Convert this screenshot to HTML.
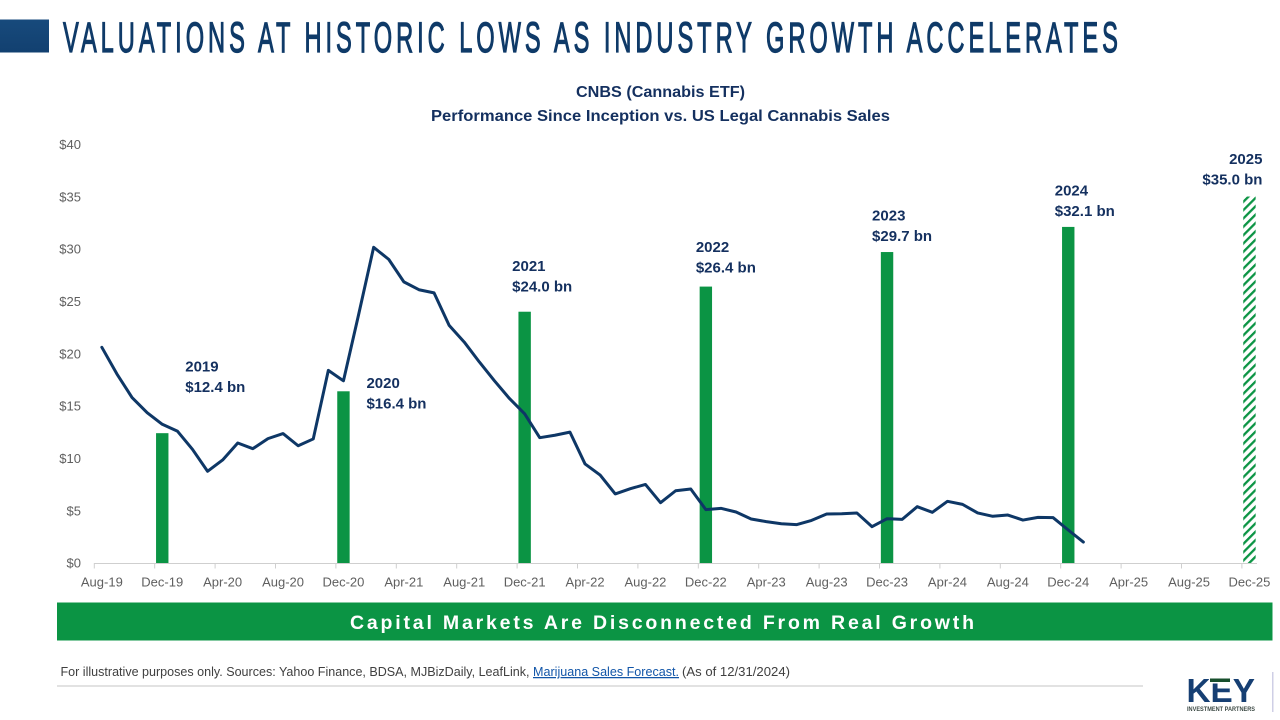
<!DOCTYPE html>
<html lang="en">
<head>
<meta charset="utf-8">
<title>Valuations at Historic Lows as Industry Growth Accelerates</title>
<style>
html,body{margin:0;padding:0;background:#fff;width:1280px;height:720px;overflow:hidden}
svg{display:block;font-family:"Liberation Sans",sans-serif}
.axis-label{font-size:13px;fill:#5f5f5f}
.bar-label{font-size:15px;font-weight:bold;fill:#14305f}
</style>
</head>
<body>
<svg id="slide" width="1280" height="720" viewBox="0 0 1280 720" xmlns="http://www.w3.org/2000/svg">
  <defs>
    <pattern id="hatch" patternUnits="userSpaceOnUse" width="5.9" height="5.9" patternTransform="rotate(-45)">
      <rect width="5.9" height="5.9" fill="#fff"/>
      <rect width="5.9" height="2.3" fill="#0b9444"/>
    </pattern>
    <linearGradient id="title-block-fill" x1="0" y1="0" x2="0" y2="1">
      <stop offset="0" stop-color="#174a7c"/>
      <stop offset="1" stop-color="#124070"/>
    </linearGradient>
  </defs>

  <rect x="0" y="19.5" width="49" height="33" fill="url(#title-block-fill)"/>
  <text transform="translate(63,51.8) scale(0.55,1)" x="0" y="0" font-size="43" fill="#0f3a68" stroke="#0f3a68" stroke-width="1.2" textLength="1918" lengthAdjust="spacing">VALUATIONS AT HISTORIC LOWS AS INDUSTRY GROWTH ACCELERATES</text>

  <text x="576" y="97" font-size="16" font-weight="bold" fill="#14305f" textLength="169" lengthAdjust="spacingAndGlyphs">CNBS (Cannabis ETF)</text>
  <text x="431" y="121" font-size="16" font-weight="bold" fill="#14305f" textLength="459" lengthAdjust="spacingAndGlyphs">Performance Since Inception vs. US Legal Cannabis Sales</text>

  <g id="chart"></g>

  <rect x="57" y="602.5" width="1215.5" height="38" fill="#0b9444"/>
  <text x="350" y="629" font-size="19.5" font-weight="bold" fill="#fff" textLength="624" lengthAdjust="spacing">Capital Markets Are Disconnected From Real Growth</text>

  <text x="60.5" y="676" font-size="12.5" fill="#404040" textLength="469" lengthAdjust="spacingAndGlyphs">For illustrative purposes only. Sources: Yahoo Finance, BDSA, MJBizDaily, LeafLink,</text>
  <text x="533" y="676" font-size="12.5" fill="#1155a8" text-decoration="underline" textLength="146" lengthAdjust="spacingAndGlyphs">Marijuana Sales Forecast.</text>
  <text x="682" y="676" font-size="12.5" fill="#404040" textLength="108" lengthAdjust="spacingAndGlyphs">(As of 12/31/2024)</text>
  <rect x="57" y="685.5" width="1086" height="1" fill="#c4c4c4"/>

  <g>
    <text x="1186.5" y="702" font-size="33" font-weight="bold" fill="#163f73" textLength="68.5" lengthAdjust="spacingAndGlyphs">KEY</text>
    <rect x="1209" y="676" width="22" height="7.5" fill="#fff"/>
    <rect x="1210" y="678.5" width="20" height="3.5" fill="#174f2c"/>
    <text x="1187" y="711" font-size="6" font-weight="bold" fill="#3d4a45" textLength="68" lengthAdjust="spacingAndGlyphs">INVESTMENT PARTNERS</text>
    <rect x="1272" y="672" width="1.5" height="40" fill="#cfcfe6"/>
  </g>
</svg>

<script>
const categories = [
  "Aug-19","Sep-19","Oct-19","Nov-19","Dec-19",
  "Jan-20","Feb-20","Mar-20","Apr-20","May-20","Jun-20","Jul-20","Aug-20","Sep-20","Oct-20","Nov-20","Dec-20",
  "Jan-21","Feb-21","Mar-21","Apr-21","May-21","Jun-21","Jul-21","Aug-21","Sep-21","Oct-21","Nov-21","Dec-21",
  "Jan-22","Feb-22","Mar-22","Apr-22","May-22","Jun-22","Jul-22","Aug-22","Sep-22","Oct-22","Nov-22","Dec-22",
  "Jan-23","Feb-23","Mar-23","Apr-23","May-23","Jun-23","Jul-23","Aug-23","Sep-23","Oct-23","Nov-23","Dec-23",
  "Jan-24","Feb-24","Mar-24","Apr-24","May-24","Jun-24","Jul-24","Aug-24","Sep-24","Oct-24","Nov-24","Dec-24",
  "Jan-25","Feb-25","Mar-25","Apr-25","May-25","Jun-25","Jul-25","Aug-25","Sep-25","Oct-25","Nov-25","Dec-25"
];
const xTickLabels = ["Aug-19","Dec-19","Apr-20","Aug-20","Dec-20","Apr-21","Aug-21","Dec-21","Apr-22","Aug-22","Dec-22","Apr-23","Aug-23","Dec-23","Apr-24","Aug-24","Dec-24","Apr-25","Aug-25","Dec-25"];
const yTickValues = [0,5,10,15,20,25,30,35,40];
const priceValues = [
  20.6,18.05,15.8,14.36,13.25,12.6,10.86,8.76,9.84,11.46,10.92,11.88,12.36,11.2,11.85,18.4,17.4,23.7,30.15,29.0,
  26.85,26.1,25.8,22.7,21.1,19.2,17.4,15.7,14.25,11.97,12.2,12.5,9.46,8.4,6.6,7.1,7.5,5.76,6.9,7.07,
  5.1,5.22,4.87,4.2,3.95,3.75,3.66,4.07,4.68,4.71,4.78,3.47,4.23,4.17,5.38,4.84,5.89,5.6,4.78,4.46,
  4.58,4.1,4.36,4.33,3.15,2.0
];
const salesCategories = ["Dec-19","Dec-20","Dec-21","Dec-22","Dec-23","Dec-24","Dec-25"];
const salesYears = ["2019","2020","2021","2022","2023","2024","2025"];
const salesValues = [12.4,16.4,24.0,26.4,29.7,32.1,35.0];
const forecastYears = ["2025"];

const SVG_NS = "http://www.w3.org/2000/svg";
const chart = document.getElementById("chart");
const plotLeft = 94.3, monthWidth = 15.1, plotBottom = 563, pxPerDollar = 10.47, barWidth = 12.4;

function xEdge(i){ return plotLeft + monthWidth * i; }
function xCenter(i){ return plotLeft + monthWidth * (i + 0.5); }
function yScale(v){ return plotBottom - pxPerDollar * v; }
function make(tag, attrs, text){
  const el = document.createElementNS(SVG_NS, tag);
  for (const k in attrs) el.setAttribute(k, attrs[k]);
  if (text !== undefined) el.textContent = text;
  chart.appendChild(el);
  return el;
}

yTickValues.forEach(function(v){
  const label = make("text", {x: 81, y: yScale(v) + 4.7, "text-anchor": "end", "class": "axis-label"}, "$" + v);
  
  
});

/* sales bars */
function labelPlacement(year, cx, top){
  const rows = {
    "2019": {dx: 23, base: top - 41},
    "2020": {dx: 23, base: top + 17},
    "2021": {dx: -12.5, base: top - 20},
    "2022": {dx: -10, base: top - 14},
    "2023": {dx: -15, base: top - 11},
    "2024": {dx: -13.5, base: top - 11},
    "2025": {dx: -48, base: top - 12}
  };
  const placed = rows[year] || {dx: -13, base: top - 12};
  return {x: cx + placed.dx, base: placed.base};
}
salesCategories.forEach(function(cat, i){
  const cx = xCenter(categories.indexOf(cat));
  const top = yScale(salesValues[i]);
  const forecast = forecastYears.indexOf(salesYears[i]) !== -1;
  const bar = make("rect", {x: cx - barWidth / 2, y: top, width: barWidth, height: plotBottom - top, fill: forecast ? "url(#hatch)" : "#0b9444"});
  
  

  const pos = labelPlacement(salesYears[i], cx, top);
  const yearLabel = make("text", {x: forecast ? pos.x + 61 : pos.x, y: pos.base - 20.5, "class": "bar-label", "text-anchor": forecast ? "end" : "start"}, salesYears[i]);
  
  
  const valueLabel = make("text", {x: forecast ? pos.x + 61 : pos.x, y: pos.base, "class": "bar-label", "text-anchor": forecast ? "end" : "start"}, "$" + salesValues[i].toFixed(1) + " bn");
  
  
});

/* x axis */
const axisLine = make("line", {x1: plotLeft, x2: xEdge(categories.length), y1: plotBottom + 0.5, y2: plotBottom + 0.5, stroke: "#cfcfcf", "stroke-width": 1});


xTickLabels.forEach(function(lbl){
  const i = categories.indexOf(lbl);
  const tick = make("line", {x1: xEdge(i), x2: xEdge(i), y1: plotBottom, y2: plotBottom + 5.5, stroke: "#cfcfcf", "stroke-width": 1});
  
  
  const label = make("text", {x: xCenter(i), y: 586.5, "text-anchor": "middle", "class": "axis-label"}, lbl);
  
  
});

/* price line */
const linePoints = priceValues.map(function(v, i){ return xCenter(i).toFixed(2) + "," + yScale(v).toFixed(2); }).join(" ");
const priceLine = make("polyline", {points: linePoints, fill: "none", stroke: "#0e3766", "stroke-width": 3, "stroke-linejoin": "round", "stroke-linecap": "round"});


</script>
</body>
</html>
